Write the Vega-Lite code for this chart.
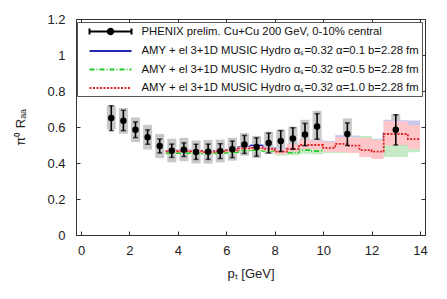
{
  "$schema": "https://vega.github.io/schema/vega-lite/v6.json",
  "width": 349,
  "height": 216,
  "autosize": "none",
  "padding": {"left": 76, "top": 19, "right": 22, "bottom": 64},
  "background": "white",
  "config": {
    "view": {"stroke": null},
    "font": "Liberation Sans",
    "axis": {
      "grid": false,
      "domainColor": "#333",
      "tickColor": "#333",
      "tickSize": -4,
      "labelFontSize": 13,
      "labelColor": "#222",
      "titleFontSize": 13,
      "titleFontWeight": "normal",
      "titleColor": "#222"
    }
  },
  "datasets": {
    "phenix": [
      {"pT": 1.25, "v": 0.650, "statlo": 0.580, "stathi": 0.718, "syslo": 0.586, "syshi": 0.718},
      {"pT": 1.75, "v": 0.635, "statlo": 0.580, "stathi": 0.693, "syslo": 0.563, "syshi": 0.705},
      {"pT": 2.25, "v": 0.585, "statlo": 0.541, "stathi": 0.628, "syslo": 0.516, "syshi": 0.653},
      {"pT": 2.75, "v": 0.543, "statlo": 0.504, "stathi": 0.584, "syslo": 0.475, "syshi": 0.612},
      {"pT": 3.25, "v": 0.494, "statlo": 0.456, "stathi": 0.533, "syslo": 0.427, "syshi": 0.561},
      {"pT": 3.75, "v": 0.468, "statlo": 0.431, "stathi": 0.505, "syslo": 0.404, "syshi": 0.535},
      {"pT": 4.25, "v": 0.474, "statlo": 0.436, "stathi": 0.512, "syslo": 0.410, "syshi": 0.540},
      {"pT": 4.75, "v": 0.461, "statlo": 0.420, "stathi": 0.504, "syslo": 0.398, "syshi": 0.525},
      {"pT": 5.25, "v": 0.462, "statlo": 0.420, "stathi": 0.505, "syslo": 0.397, "syshi": 0.528},
      {"pT": 5.75, "v": 0.466, "statlo": 0.425, "stathi": 0.507, "syslo": 0.403, "syshi": 0.530},
      {"pT": 6.25, "v": 0.476, "statlo": 0.430, "stathi": 0.522, "syslo": 0.413, "syshi": 0.540},
      {"pT": 6.75, "v": 0.503, "statlo": 0.453, "stathi": 0.553, "syslo": 0.441, "syshi": 0.566},
      {"pT": 7.25, "v": 0.489, "statlo": 0.438, "stathi": 0.540, "syslo": 0.428, "syshi": 0.550},
      {"pT": 7.75, "v": 0.511, "statlo": 0.456, "stathi": 0.566, "syslo": 0.449, "syshi": 0.574},
      {"pT": 8.25, "v": 0.522, "statlo": 0.464, "stathi": 0.580, "syslo": 0.459, "syshi": 0.586},
      {"pT": 8.75, "v": 0.536, "statlo": 0.476, "stathi": 0.596, "syslo": 0.471, "syshi": 0.602},
      {"pT": 9.25, "v": 0.558, "statlo": 0.496, "stathi": 0.620, "syslo": 0.487, "syshi": 0.640},
      {"pT": 9.75, "v": 0.603, "statlo": 0.532, "stathi": 0.674, "syslo": 0.520, "syshi": 0.690},
      {"pT": 11.0, "v": 0.561, "statlo": 0.497, "stathi": 0.623, "syslo": 0.496, "syshi": 0.648},
      {"pT": 13.0, "v": 0.585, "statlo": 0.500, "stathi": 0.668, "syslo": 0.505, "syshi": 0.672}
    ],
    "theory": [
      {"m": "0.1", "pT": 3.5, "c": 0.467, "lo": 0.461, "hi": 0.473},
      {"m": "0.1", "pT": 4.0, "c": 0.468, "lo": 0.462, "hi": 0.474},
      {"m": "0.1", "pT": 4.5, "c": 0.467, "lo": 0.461, "hi": 0.473},
      {"m": "0.1", "pT": 5.0, "c": 0.462, "lo": 0.457, "hi": 0.469},
      {"m": "0.1", "pT": 5.5, "c": 0.467, "lo": 0.461, "hi": 0.473},
      {"m": "0.1", "pT": 6.0, "c": 0.472, "lo": 0.465, "hi": 0.481},
      {"m": "0.1", "pT": 6.5, "c": 0.486, "lo": 0.478, "hi": 0.494},
      {"m": "0.1", "pT": 7.0, "c": 0.497, "lo": 0.486, "hi": 0.506},
      {"m": "0.1", "pT": 7.5, "c": 0.482, "lo": 0.472, "hi": 0.492},
      {"m": "0.1", "pT": 8.0, "c": 0.465, "lo": 0.455, "hi": 0.483},
      {"m": "0.1", "pT": 8.5, "c": 0.480, "lo": 0.465, "hi": 0.500},
      {"m": "0.1", "pT": 9.0, "c": 0.502, "lo": 0.480, "hi": 0.530},
      {"m": "0.1", "pT": 9.5, "c": 0.502, "lo": 0.478, "hi": 0.530},
      {"m": "0.1", "pT": 10.0, "c": 0.487, "lo": 0.465, "hi": 0.522},
      {"m": "0.1", "pT": 10.5, "c": 0.510, "lo": 0.470, "hi": 0.556},
      {"m": "0.1", "pT": 11.0, "c": 0.500, "lo": 0.462, "hi": 0.553},
      {"m": "0.1", "pT": 11.5, "c": 0.475, "lo": 0.440, "hi": 0.545},
      {"m": "0.1", "pT": 12.0, "c": 0.466, "lo": 0.428, "hi": 0.535},
      {"m": "0.1", "pT": 12.5, "c": 0.563, "lo": 0.500, "hi": 0.640},
      {"m": "0.1", "pT": 13.0, "c": 0.563, "lo": 0.500, "hi": 0.638},
      {"m": "0.1", "pT": 13.5, "c": 0.550, "lo": 0.490, "hi": 0.636},
      {"m": "0.1", "pT": 14.0, "c": 0.550, "lo": 0.490, "hi": 0.636},
      {"m": "0.5", "pT": 3.5, "c": 0.455, "lo": 0.449, "hi": 0.461},
      {"m": "0.5", "pT": 4.0, "c": 0.455, "lo": 0.449, "hi": 0.461},
      {"m": "0.5", "pT": 4.5, "c": 0.456, "lo": 0.450, "hi": 0.462},
      {"m": "0.5", "pT": 5.0, "c": 0.452, "lo": 0.446, "hi": 0.458},
      {"m": "0.5", "pT": 5.5, "c": 0.455, "lo": 0.449, "hi": 0.461},
      {"m": "0.5", "pT": 6.0, "c": 0.460, "lo": 0.452, "hi": 0.468},
      {"m": "0.5", "pT": 6.5, "c": 0.470, "lo": 0.462, "hi": 0.478},
      {"m": "0.5", "pT": 7.0, "c": 0.472, "lo": 0.462, "hi": 0.482},
      {"m": "0.5", "pT": 7.5, "c": 0.468, "lo": 0.458, "hi": 0.478},
      {"m": "0.5", "pT": 8.0, "c": 0.455, "lo": 0.442, "hi": 0.470},
      {"m": "0.5", "pT": 8.5, "c": 0.458, "lo": 0.443, "hi": 0.475},
      {"m": "0.5", "pT": 9.0, "c": 0.472, "lo": 0.452, "hi": 0.495},
      {"m": "0.5", "pT": 9.5, "c": 0.466, "lo": 0.448, "hi": 0.490},
      {"m": "0.5", "pT": 10.0, "c": 0.478, "lo": 0.455, "hi": 0.505},
      {"m": "0.5", "pT": 10.5, "c": 0.492, "lo": 0.455, "hi": 0.530},
      {"m": "0.5", "pT": 11.0, "c": 0.500, "lo": 0.458, "hi": 0.545},
      {"m": "0.5", "pT": 11.5, "c": 0.500, "lo": 0.450, "hi": 0.550},
      {"m": "0.5", "pT": 12.0, "c": 0.482, "lo": 0.430, "hi": 0.530},
      {"m": "0.5", "pT": 12.5, "c": 0.505, "lo": 0.433, "hi": 0.560},
      {"m": "0.5", "pT": 13.0, "c": 0.503, "lo": 0.433, "hi": 0.555},
      {"m": "0.5", "pT": 13.5, "c": 0.520, "lo": 0.460, "hi": 0.580},
      {"m": "0.5", "pT": 14.0, "c": 0.520, "lo": 0.460, "hi": 0.580},
      {"m": "1.0", "pT": 3.5, "c": 0.465, "lo": 0.459, "hi": 0.471},
      {"m": "1.0", "pT": 4.0, "c": 0.466, "lo": 0.460, "hi": 0.472},
      {"m": "1.0", "pT": 4.5, "c": 0.465, "lo": 0.459, "hi": 0.471},
      {"m": "1.0", "pT": 5.0, "c": 0.460, "lo": 0.454, "hi": 0.466},
      {"m": "1.0", "pT": 5.5, "c": 0.465, "lo": 0.459, "hi": 0.471},
      {"m": "1.0", "pT": 6.0, "c": 0.470, "lo": 0.462, "hi": 0.478},
      {"m": "1.0", "pT": 6.5, "c": 0.481, "lo": 0.473, "hi": 0.489},
      {"m": "1.0", "pT": 7.0, "c": 0.484, "lo": 0.474, "hi": 0.494},
      {"m": "1.0", "pT": 7.5, "c": 0.478, "lo": 0.468, "hi": 0.488},
      {"m": "1.0", "pT": 8.0, "c": 0.463, "lo": 0.450, "hi": 0.478},
      {"m": "1.0", "pT": 8.5, "c": 0.478, "lo": 0.463, "hi": 0.506},
      {"m": "1.0", "pT": 9.0, "c": 0.500, "lo": 0.478, "hi": 0.528},
      {"m": "1.0", "pT": 9.5, "c": 0.500, "lo": 0.475, "hi": 0.525},
      {"m": "1.0", "pT": 10.0, "c": 0.484, "lo": 0.463, "hi": 0.517},
      {"m": "1.0", "pT": 10.5, "c": 0.506, "lo": 0.461, "hi": 0.544},
      {"m": "1.0", "pT": 11.0, "c": 0.497, "lo": 0.455, "hi": 0.540},
      {"m": "1.0", "pT": 11.5, "c": 0.472, "lo": 0.433, "hi": 0.539},
      {"m": "1.0", "pT": 12.0, "c": 0.463, "lo": 0.422, "hi": 0.528},
      {"m": "1.0", "pT": 12.5, "c": 0.561, "lo": 0.496, "hi": 0.633},
      {"m": "1.0", "pT": 13.0, "c": 0.561, "lo": 0.498, "hi": 0.630},
      {"m": "1.0", "pT": 13.5, "c": 0.533, "lo": 0.478, "hi": 0.611},
      {"m": "1.0", "pT": 14.0, "c": 0.533, "lo": 0.478, "hi": 0.611}
    ]
  },
  "resolve": {"axis": {"x": "independent", "y": "independent"}},
  "layer": [
    {
      "data": {"name": "phenix"},
      "mark": {"type": "bar", "size": 9, "color": "#c8c8c8"},
      "encoding": {
        "x": {"field": "pT", "type": "quantitative",
              "scale": {"domain": [0, 14], "nice": false},
              "axis": {"orient": "bottom", "values": [0, 2, 4, 6, 8, 10, 12, 14], "labelPadding": 13, "title": "pₜ [GeV]", "titleBaseline": "alphabetic", "titleY": 42}},
        "y": {"field": "syslo", "type": "quantitative",
              "scale": {"domain": [0, 1.2], "nice": false, "zero": false},
              "axis": {"orient": "left", "values": [0, 0.2, 0.4, 0.6, 0.8, 1, 1.2], "format": "~g", "labelPadding": 15, "title": "π⁰ Rₐₐ", "titleX": -52, "titleBaseline": "alphabetic"}},
        "y2": {"field": "syshi"}
      }
    },
    {
      "data": {"name": "theory"},
      "transform": [{"filter": "datum.m == '0.1'"}],
      "mark": {"type": "area", "interpolate": "step-after", "color": "#c9c9f0", "opacity": 1},
      "encoding": {
        "x": {"field": "pT", "type": "quantitative", "axis": null},
        "y": {"field": "lo", "type": "quantitative", "axis": null},
        "y2": {"field": "hi"}
      }
    },
    {
      "data": {"name": "theory"},
      "transform": [{"filter": "datum.m == '0.1'"}],
      "mark": {"type": "line", "interpolate": "step-after", "strokeWidth": 1.8},
      "encoding": {
        "x": {"field": "pT", "type": "quantitative", "axis": null},
        "y": {"field": "c", "type": "quantitative", "axis": null},
        "color": {"field": "m", "type": "nominal",
          "scale": {"domain": ["P", "0.1", "0.5", "1.0"], "range": ["black", "#2626b4", "#22cc22", "#dd2222"]},
          "legend": {
            "title": null,
            "orient": "top-right",
            "offset": 3,
            "padding": 2.5,
            "fillColor": "white",
            "strokeColor": "#555",
            "symbolSize": 144,
            "symbolType": "M-3.5,0L3.5,0",
            "symbolStrokeWidth": 2,
            "symbolOffset": 24,
            "labelOffset": 24,
            "labelFontSize": 11.3,
            "labelColor": "#111",
            "labelLimit": 0,
            "rowPadding": 5.5,
            "labelExpr": "datum.value == 'P' ? 'PHENIX prelim. Cu+Cu 200 GeV, 0-10% central' : 'AMY + el 3+1D MUSIC Hydro αₛ=0.32 α=' + datum.value + ' b=2.28 fm'",
            "encode": {
              "symbols": {
                "update": {
                  "shape": {"signal": "datum.value == 'P' ? 'M-3.5,0L3.5,0M-3.5,-0.5L-3.5,0.5M3.5,-0.5L3.5,0.5M-0.45,0A0.45,0.45,0,1,0,0.45,0A0.45,0.45,0,1,0,-0.45,0Z' : 'M-3.5,0L3.5,0'"},
                  "fill": {"signal": "datum.value == 'P' ? 'black' : 'transparent'"}
                }
              }
            }
          }},
        "strokeDash": {"field": "m", "type": "nominal",
          "scale": {"domain": ["P", "0.1", "0.5", "1.0"], "range": [[1, 0], [1, 0], [5, 2, 1, 2], [2, 1.5]]}}
      }
    },
    {
      "data": {"name": "theory"},
      "transform": [{"filter": "datum.m == '0.5'"}],
      "mark": {"type": "area", "interpolate": "step-after", "color": "#c6e9c6", "opacity": 1},
      "encoding": {
        "x": {"field": "pT", "type": "quantitative", "axis": null},
        "y": {"field": "lo", "type": "quantitative", "axis": null},
        "y2": {"field": "hi"}
      }
    },
    {
      "data": {"name": "theory"},
      "transform": [{"filter": "datum.m == '0.5'"}],
      "mark": {"type": "line", "interpolate": "step-after", "strokeWidth": 1.8},
      "encoding": {
        "x": {"field": "pT", "type": "quantitative", "axis": null},
        "y": {"field": "c", "type": "quantitative", "axis": null},
        "color": {"field": "m", "type": "nominal"},
        "strokeDash": {"field": "m", "type": "nominal"}
      }
    },
    {
      "data": {"name": "theory"},
      "transform": [{"filter": "datum.m == '1.0'"}],
      "mark": {"type": "area", "interpolate": "step-after", "color": "#ffc6c9", "opacity": 1},
      "encoding": {
        "x": {"field": "pT", "type": "quantitative", "axis": null},
        "y": {"field": "lo", "type": "quantitative", "axis": null},
        "y2": {"field": "hi"}
      }
    },
    {
      "data": {"name": "theory"},
      "transform": [{"filter": "datum.m == '1.0'"}],
      "mark": {"type": "line", "interpolate": "step-after", "strokeWidth": 1.8},
      "encoding": {
        "x": {"field": "pT", "type": "quantitative", "axis": null},
        "y": {"field": "c", "type": "quantitative", "axis": null},
        "color": {"field": "m", "type": "nominal"},
        "strokeDash": {"field": "m", "type": "nominal"}
      }
    },
    {
      "data": {"name": "phenix"},
      "mark": {"type": "rule", "color": "black", "strokeWidth": 1.6},
      "encoding": {
        "x": {"field": "pT", "type": "quantitative", "axis": null},
        "y": {"field": "statlo", "type": "quantitative", "axis": null},
        "y2": {"field": "stathi"}
      }
    },
    {
      "data": {"name": "phenix"},
      "mark": {"type": "tick", "orient": "horizontal", "color": "black", "size": 5, "thickness": 1.5},
      "encoding": {
        "x": {"field": "pT", "type": "quantitative", "axis": null},
        "y": {"field": "statlo", "type": "quantitative", "axis": null}
      }
    },
    {
      "data": {"name": "phenix"},
      "mark": {"type": "tick", "orient": "horizontal", "color": "black", "size": 5, "thickness": 1.5},
      "encoding": {
        "x": {"field": "pT", "type": "quantitative", "axis": null},
        "y": {"field": "stathi", "type": "quantitative", "axis": null}
      }
    },
    {
      "data": {"name": "phenix"},
      "mark": {"type": "point", "filled": true, "color": "black", "size": 42, "opacity": 1},
      "encoding": {
        "x": {"field": "pT", "type": "quantitative",
              "axis": {"orient": "top", "values": [0, 2, 4, 6, 8, 10, 12, 14], "labels": false, "title": null}},
        "y": {"field": "v", "type": "quantitative",
              "axis": {"orient": "right", "values": [0, 0.2, 0.4, 0.6, 0.8, 1, 1.2], "labels": false, "title": null}}
      }
    }
  ]
}
